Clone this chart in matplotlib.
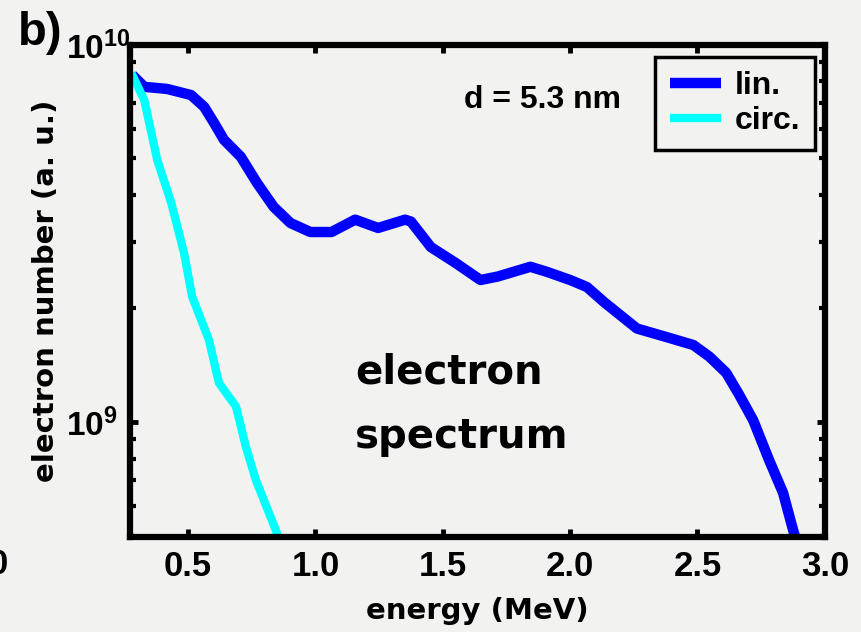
import numpy as np
import matplotlib
matplotlib.use('Agg')
import matplotlib.pyplot as plt
from matplotlib.ticker import LogLocator, NullFormatter

# electron spectra, d = 5.3 nm target
energy_lin = [0.281, 0.328, 0.418, 0.512, 0.563, 0.602, 0.641, 0.707, 0.770, 0.836,
              0.902, 0.980, 1.063, 1.156, 1.246, 1.352, 1.375, 1.453, 1.547, 1.648,
              1.715, 1.844, 1.910, 2.000, 2.066, 2.133, 2.262, 2.391, 2.484, 2.547,
              2.613, 2.664, 2.719, 2.781, 2.836, 2.875, 2.890]
counts_lin = [8.32e9, 7.74e9, 7.64e9, 7.36e9, 6.85e9, 6.21e9, 5.60e9, 5.05e9, 4.31e9, 3.72e9,
              3.37e9, 3.19e9, 3.19e9, 3.44e9, 3.27e9, 3.44e9, 3.40e9, 2.91e9, 2.65e9, 2.38e9,
              2.43e9, 2.58e9, 2.50e9, 2.38e9, 2.28e9, 2.08e9, 1.77e9, 1.67e9, 1.60e9, 1.49e9,
              1.35e9, 1.18e9, 1.01e9, 7.93e8, 6.49e8, 5.18e8, 4.80e8]

energy_circ = [0.277, 0.328, 0.379, 0.434, 0.484, 0.516, 0.582, 0.621, 0.688, 0.727,
               0.766, 0.844, 0.860]
counts_circ = [8.43e9, 7.14e9, 4.95e9, 3.81e9, 2.81e9, 2.15e9, 1.65e9, 1.27e9, 1.10e9, 8.59e8,
               7.02e8, 5.18e8, 4.80e8]

xticks = [0.5, 1.0, 1.5, 2.0, 2.5, 3.0]
xtick_labels = ['0.5', '1.0', '1.5', '2.0', '2.5', '3.0']
yticks = [1e9, 1e10]
ytick_labels = [r'$10^{9}$', r'$10^{10}$']

bg = '#f2f2f0'
narrow = ['Liberation Sans', 'DejaVu Sans']

plt.rcParams['mathtext.fontset'] = 'custom'
plt.rcParams['mathtext.rm'] = 'Liberation Sans:bold'
plt.rcParams['mathtext.it'] = 'Liberation Sans:bold'
plt.rcParams['mathtext.bf'] = 'Liberation Sans:bold'
plt.rcParams['mathtext.default'] = 'rm'

fig = plt.figure(figsize=(8.61, 6.32), dpi=100, facecolor=bg)
ax = fig.add_axes([0.151, 0.150, 0.807, 0.779], facecolor=bg)

ax.plot(energy_lin, counts_lin, color='#0000ff', lw=7.5, label='lin.', solid_capstyle='butt')
ax.plot(energy_circ, counts_circ, color='#00ffff', lw=6, label='circ.', solid_capstyle='butt')

ax.set_yscale('log')
ax.set_xlim(0.272, 3.0)
ax.set_ylim(4.95e8, 1e10)

for s in ax.spines.values():
    s.set_linewidth(4.5)

ax.set_xticks(xticks, xtick_labels, fontfamily=narrow, fontweight='bold', fontsize=25)
ax.set_yticks(yticks, ytick_labels, fontsize=24, ha='left')
ax.yaxis.set_minor_locator(LogLocator(base=10, subs=np.arange(2, 10)))
ax.yaxis.set_minor_formatter(NullFormatter())
ax.tick_params(which='both', direction='in', top=True, right=True)
ax.tick_params(which='major', length=6, width=3.5)
ax.tick_params(which='minor', length=4, width=3)
ax.tick_params(axis='x', pad=9)
ax.tick_params(axis='y', pad=46)

ax.set_xlabel('energy (MeV)', fontfamily='DejaVu Sans', fontweight='bold', fontsize=21, labelpad=10)
ax.set_ylabel('electron number (a. u.)', fontfamily='DejaVu Sans', fontweight='bold', fontsize=21)
ax.yaxis.set_label_coords(-0.101, 0.5)

ax.text(0.324, 0.313, 'electron', transform=ax.transAxes, fontfamily='DejaVu Sans',
        fontweight='bold', fontsize=29, va='baseline', ha='left')
ax.text(0.324, 0.181, 'spectrum', transform=ax.transAxes, fontfamily='DejaVu Sans',
        fontweight='bold', fontsize=29, va='baseline', ha='left')
ax.text(0.594, 0.888, 'd = 5.3 nm', transform=ax.transAxes, fontfamily=narrow,
        fontweight='bold', fontsize=23, va='center', ha='center')

leg = ax.legend(loc='upper right', bbox_to_anchor=(0.986, 0.976), borderaxespad=0,
                fancybox=False, framealpha=1, facecolor=bg, edgecolor='black',
                handlelength=1.6, handletextpad=0.45, labelspacing=0.15, borderpad=0.45,
                prop={'family': narrow, 'weight': 'bold', 'size': 23})
leg.get_frame().set_linewidth(2.5)

fig.text(18 / 861, 1 - 33 / 632, 'b)', fontfamily=narrow, fontweight='bold',
         fontsize=34, va='center', ha='left')
# right end of the neighbouring panel's axis label
fig.text(8 / 861, 1 - 565 / 632, '3.0', fontfamily=narrow, fontweight='bold',
         fontsize=25, va='center', ha='right')

fig.savefig('out.png', dpi=100, facecolor=bg)
